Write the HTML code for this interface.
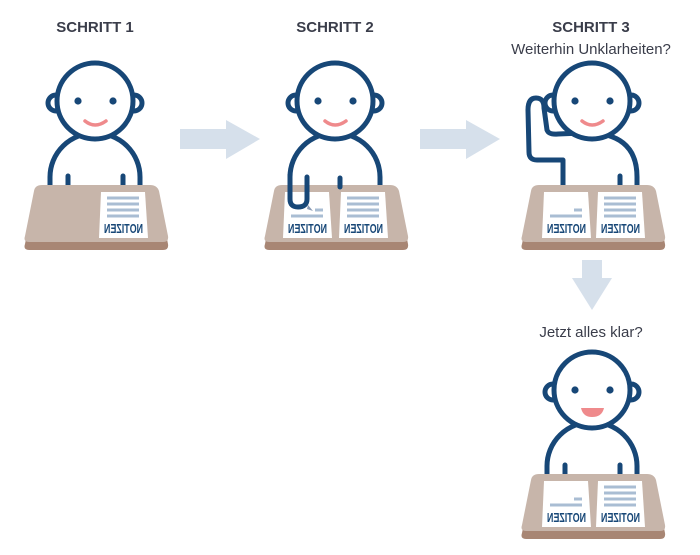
<!DOCTYPE html>
<html><head><meta charset="utf-8"><style>
html,body{margin:0;padding:0;background:#fff;}
svg{display:block;}
.t{font-family:"Liberation Sans Narrow","Liberation Sans",sans-serif;fill:#3a3d4a;}
</style></head><body>
<svg width="700" height="555" viewBox="0 0 700 555" xmlns="http://www.w3.org/2000/svg">
<defs>
<g id="head">
  <circle cx="-39" cy="2" r="8" fill="#fff" stroke="#174777" stroke-width="5"/>
  <circle cx="39" cy="2" r="8" fill="#fff" stroke="#174777" stroke-width="5"/>
  <circle cx="0" cy="0" r="38" fill="#fff" stroke="#174777" stroke-width="5"/>
  <circle cx="-17" cy="0" r="3.6" fill="#174777"/>
  <circle cx="18" cy="0" r="3.6" fill="#174777"/>
</g>
<path id="body" d="M-45 86 V76 A45 44 0 0 1 45 76 V86" fill="#fff" stroke="#174777" stroke-width="5"/>
<g id="desk">
  <path d="M-70 135 L-61 90 Q-60 84 -53 84 L55 84 Q62 84 64 90 L73 135 Q74 141 68 141 L-66 141 Q-72 141 -70 135Z" fill="#a88674" transform="translate(0,8)"/>
  <path d="M-70 135 L-61 90 Q-60 84 -53 84 L55 84 Q62 84 64 90 L73 135 Q74 141 68 141 L-66 141 Q-72 141 -70 135Z" fill="#c7b5aa"/>
</g>
<g id="paperFull">
  <path d="M0 0 H44 L47 46 H-2 Z" fill="#fff"/>
  <g stroke="#a9bdd3" stroke-width="3">
    <line x1="6" y1="6" x2="38" y2="6"/><line x1="6" y1="12" x2="38" y2="12"/>
    <line x1="6" y1="18" x2="38" y2="18"/><line x1="6" y1="24" x2="38" y2="24"/>
  </g>
  <text x="-42" y="41" transform="scale(-1,1)" textLength="39" lengthAdjust="spacingAndGlyphs" font-family="Liberation Sans Narrow,Liberation Sans,sans-serif" font-weight="bold" font-size="13" fill="#174777">NOTIZEN</text>
</g>
<g id="paperHalf">
  <path d="M0 0 H44 L47 46 H-2 Z" fill="#fff"/>
  <g stroke="#a9bdd3" stroke-width="3">
    <line x1="30" y1="18" x2="38" y2="18"/><line x1="6" y1="24" x2="38" y2="24"/>
  </g>
  <text x="-42" y="41" transform="scale(-1,1)" textLength="39" lengthAdjust="spacingAndGlyphs" font-family="Liberation Sans Narrow,Liberation Sans,sans-serif" font-weight="bold" font-size="13" fill="#174777">NOTIZEN</text>
</g>
<path id="smile" d="M-10 20 Q0 28 11 20" fill="none" stroke="#ef8a8c" stroke-width="3.5" stroke-linecap="round"/>
</defs>

<text class="t" x="95" y="32" text-anchor="middle" font-weight="bold" font-size="15">SCHRITT 1</text>
<text class="t" x="335" y="32" text-anchor="middle" font-weight="bold" font-size="15">SCHRITT 2</text>
<text class="t" x="591" y="32" text-anchor="middle" font-weight="bold" font-size="15">SCHRITT 3</text>
<text class="t" x="591" y="54" text-anchor="middle" font-size="15">Weiterhin Unklarheiten?</text>
<text class="t" x="591" y="337" text-anchor="middle" font-size="15">Jetzt alles klar?</text>

<path d="M180 129 H226 V120 L260 139 L226 159 V149 H180Z" fill="#d6e0eb"/>
<path d="M420 129 H466 V120 L500 139 L466 159 V149 H420Z" fill="#d6e0eb"/>
<path d="M582 260 H602 V278 H612 L592 310 L572 278 H582Z" fill="#d6e0eb"/>

<g transform="translate(95,101)">
  <use href="#body"/>
  <line x1="-27" y1="75" x2="-27" y2="86" stroke="#174777" stroke-width="5" stroke-linecap="round"/>
  <line x1="28" y1="75" x2="28" y2="86" stroke="#174777" stroke-width="5" stroke-linecap="round"/>
  <use href="#head"/><use href="#smile"/>
  <use href="#desk"/>
  <use href="#paperFull" x="6" y="91"/>
</g>

<g transform="translate(335,101)">
  <use href="#body"/>
  <use href="#head"/><use href="#smile"/>
  <use href="#desk"/>
  <use href="#paperHalf" x="-50" y="91"/>
  <use href="#paperFull" x="6" y="91"/>
  <path d="M-27 104 L-22 110 L-28 108Z" fill="#8a9bb5"/>
  <path d="M-45 74 V98 Q-45 106 -37 106 Q-28 106 -28 98 V76" fill="none" stroke="#174777" stroke-width="5" stroke-linecap="round"/>
  <line x1="5" y1="77" x2="5" y2="86" stroke="#174777" stroke-width="5" stroke-linecap="round"/>
</g>

<g transform="translate(592,101)">
  <path d="M-29 86 V59 H-55 Q-63 59 -63 51 L-64 9 Q-64 -3 -56 -3 Q-48 -3 -48 7 L-45 29 Q-43 34 -34 33 L-10 32 Q45 30 45 76 V86" fill="#fff" stroke="#174777" stroke-width="5" stroke-linejoin="round"/>
  <line x1="28" y1="75" x2="28" y2="86" stroke="#174777" stroke-width="5" stroke-linecap="round"/>
  <use href="#head"/><use href="#smile"/>
  <use href="#desk"/>
  <use href="#paperHalf" x="-48" y="91"/>
  <use href="#paperFull" x="6" y="91"/>
</g>

<g transform="translate(592,390)">
  <use href="#body"/>
  <line x1="-27" y1="75" x2="-27" y2="86" stroke="#174777" stroke-width="5" stroke-linecap="round"/>
  <line x1="28" y1="75" x2="28" y2="86" stroke="#174777" stroke-width="5" stroke-linecap="round"/>
  <use href="#head"/>
  <path d="M-11 18 H12 Q10 27 0 27 Q-9 27 -11 18Z" fill="#ef8a8c"/>
  <use href="#desk"/>
  <use href="#paperHalf" x="-48" y="91"/>
  <use href="#paperFull" x="6" y="91"/>
</g>
</svg>
</body></html>
